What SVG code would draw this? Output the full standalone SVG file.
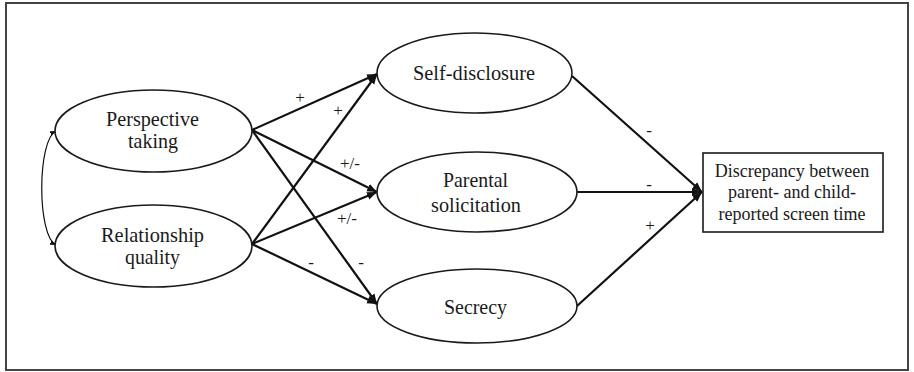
<svg xmlns="http://www.w3.org/2000/svg" width="914" height="372" viewBox="0 0 914 372">
<style>
.node ellipse{fill:#fff;stroke:#1a1a1a;stroke-width:1.6}
.node rect{fill:#fff;stroke:#1a1a1a;stroke-width:1.6}
text{fill:#1a1a1a;text-anchor:middle}
.lbl{font-size:21px}
.box{font-size:18px}
.sign{font-size:17px}
.edge{stroke:#111;stroke-width:2.2;fill:none}
.thin{stroke:#111;stroke-width:1.2;fill:none}
</style>
<defs>
<marker id="ah" markerUnits="userSpaceOnUse" markerWidth="12" markerHeight="10" refX="10" refY="5" orient="auto">
<path d="M0,1 L10,5 L0,9 Z" fill="#111"/>
</marker>
<marker id="ahs" markerUnits="userSpaceOnUse" markerWidth="8" markerHeight="8" refX="6" refY="3" orient="auto-start-reverse">
<path d="M0,0.5 L6,3 L0,5.5 Z" fill="#111"/>
</marker>
</defs>
<rect x="6" y="3" width="902" height="367" fill="#fff" stroke="#444" stroke-width="2"/>
<g id="connectors">
<path class="thin" d="M56,131 C37,140 37,236 56,245" marker-start="url(#ahs)" marker-end="url(#ahs)"/>
<line class="edge" x1="252" y1="130" x2="377" y2="74" marker-end="url(#ah)"/>
<line class="edge" x1="252" y1="130" x2="377" y2="192" marker-end="url(#ah)"/>
<line class="edge" x1="252" y1="130" x2="377" y2="304" marker-end="url(#ah)"/>
<line class="edge" x1="252" y1="244" x2="377" y2="74" marker-end="url(#ah)"/>
<line class="edge" x1="252" y1="244" x2="377" y2="192" marker-end="url(#ah)"/>
<line class="edge" x1="252" y1="244" x2="377" y2="304" marker-end="url(#ah)"/>
<line class="edge" x1="572" y1="76" x2="702" y2="192" marker-end="url(#ah)"/>
<line class="edge" x1="577" y1="192" x2="702" y2="192" marker-end="url(#ah)"/>
<line class="edge" x1="577" y1="306" x2="702" y2="192" marker-end="url(#ah)"/>
<text class="sign" font-family="Liberation Serif, serif" x="300" y="103">+</text>
<text class="sign" font-family="Liberation Serif, serif" x="338" y="116">+</text>
<text class="sign" font-family="Liberation Serif, serif" x="350" y="169">+/-</text>
<text class="sign" font-family="Liberation Serif, serif" x="347" y="224">+/-</text>
<text class="sign" font-family="Liberation Serif, serif" x="311" y="268">-</text>
<text class="sign" font-family="Liberation Serif, serif" x="361" y="268">-</text>
<text class="sign" font-family="Liberation Serif, serif" x="649" y="136">-</text>
<text class="sign" font-family="Liberation Serif, serif" x="649" y="190">-</text>
<text class="sign" font-family="Liberation Serif, serif" x="650" y="231">+</text>
</g>
<g id="perspective-taking" class="node">
<ellipse cx="153.5" cy="131" rx="98.5" ry="41"/>
<text class="lbl" font-family="Liberation Serif, serif" x="152.5" y="126" textLength="93" lengthAdjust="spacingAndGlyphs">Perspective</text>
<text class="lbl" font-family="Liberation Serif, serif" x="153" y="148" textLength="50" lengthAdjust="spacingAndGlyphs">taking</text>
</g>
<g id="relationship-quality" class="node">
<ellipse cx="153.5" cy="246" rx="98.5" ry="41"/>
<text class="lbl" font-family="Liberation Serif, serif" x="152.5" y="242" textLength="103" lengthAdjust="spacingAndGlyphs">Relationship</text>
<text class="lbl" font-family="Liberation Serif, serif" x="152.5" y="264" textLength="55" lengthAdjust="spacingAndGlyphs">quality</text>
</g>
<g id="self-disclosure" class="node">
<ellipse cx="474.5" cy="73" rx="97.5" ry="40"/>
<text class="lbl" font-family="Liberation Serif, serif" x="474" y="80" textLength="122" lengthAdjust="spacingAndGlyphs">Self-disclosure</text>
</g>
<g id="parental-solicitation" class="node">
<ellipse cx="477" cy="192" rx="100" ry="40"/>
<text class="lbl" font-family="Liberation Serif, serif" x="475.5" y="187" textLength="65" lengthAdjust="spacingAndGlyphs">Parental</text>
<text class="lbl" font-family="Liberation Serif, serif" x="476" y="212" textLength="90" lengthAdjust="spacingAndGlyphs">solicitation</text>
</g>
<g id="secrecy" class="node">
<ellipse cx="477" cy="306" rx="100" ry="37"/>
<text class="lbl" font-family="Liberation Serif, serif" x="475.5" y="314" textLength="63" lengthAdjust="spacingAndGlyphs">Secrecy</text>
</g>
<g id="discrepancy" class="node">
<rect x="703" y="153" width="180" height="79"/>
<text class="box" font-family="Liberation Serif, serif" x="792" y="177">Discrepancy between</text>
<text class="box" font-family="Liberation Serif, serif" x="792" y="198">parent- and child-</text>
<text class="box" font-family="Liberation Serif, serif" x="792" y="220">reported screen time</text>
</g>
</svg>
